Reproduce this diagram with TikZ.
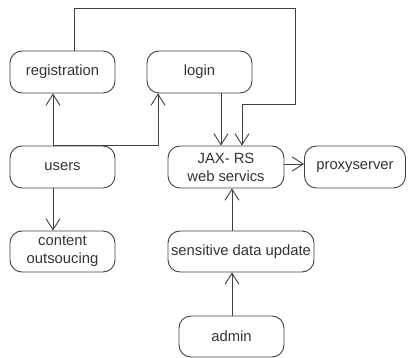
\documentclass[tikz,border=0pt]{standalone}
\usepackage{fontspec}
\setmainfont{Liberation Sans}
\usetikzlibrary{arrows.meta}
\begin{document}
\begin{tikzpicture}[x=1pt,y=-1pt,
  box/.style={draw=black!75, line width=0.9pt, rounded corners=12pt, align=center,
    inner sep=0pt, font=\fontsize{14.8}{18}\selectfont, text=black!80},
  conn/.style={draw=black!75, line width=0.9pt, -{Straight Barb[length=11pt,width=14pt,line width=0.9pt]}},
  plain/.style={draw=black!75, line width=0.9pt}]
\useasboundingbox (0,0) rectangle (408,358);
\node[box, minimum width=105pt, minimum height=42pt] (reg) at (62.5,72) {registration};
\node[box, minimum width=105pt, minimum height=42pt] (login) at (199.5,72) {login};
\node[box, minimum width=105pt, minimum height=42pt] (users) at (62.5,167) {users};
\node[box, minimum width=116pt, minimum height=42pt] (jax) at (226,167) {JAX- RS\\web servics};
\node[box, minimum width=101pt, minimum height=42pt] (proxy) at (355,167) {proxyserver};
\node[box, minimum width=105pt, minimum height=41pt] (content) at (62.5,251.5) {content\\outsoucing};
\node[box, minimum width=146pt, minimum height=41pt] (sens) at (241,251.5) {sensitive data update};
\node[box, minimum width=105pt, minimum height=41pt] (admin) at (231.5,336.5) {admin};
% helper coordinates
\coordinate (xu) at (53,0);
\coordinate (xl) at (158,0);
\coordinate (xr) at (74,0);
\coordinate (xlj) at (221,0);
\coordinate (xrj) at (242,0);
\coordinate (top) at (295,8);
\coordinate (mid) at (295,104);
\coordinate (xs) at (232,0);
% connectors
\draw[conn] (users.north -| xu) -- (reg.south -| xu);
\draw[conn] (users.north -| xu) -- (users.north -| xl) -- (login.south -| xl);
\draw[conn] (users.south -| xu) -- (content.north -| xu);
\draw[conn] (login.south -| xlj) -- (jax.north -| xlj);
\draw[conn] (reg.north -| xr) -- (xr |- top) -- (top) -- (mid) -- (mid -| xrj) -- (jax.north -| xrj);
\draw[conn] (jax.east |- 0,164) -- (proxy.west |- 0,164);
\draw[conn] (sens.north -| xs) -- (jax.south -| xs);
\draw[conn] (admin.north -| xs) -- (sens.south -| xs);
\end{tikzpicture}
\end{document}
